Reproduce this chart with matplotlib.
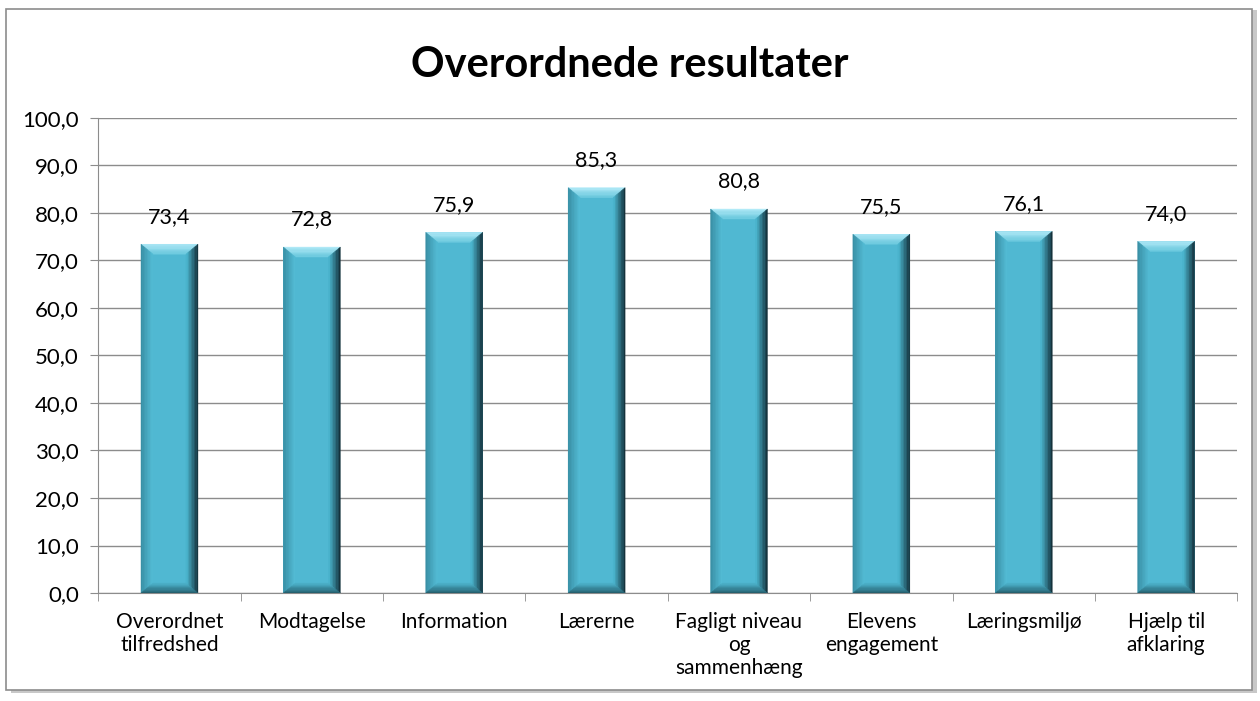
import numpy as np
import matplotlib
matplotlib.use("Agg")
import matplotlib.pyplot as plt
from matplotlib.patches import Rectangle, Polygon
from matplotlib.colors import to_rgb

plt.rcParams['font.family'] = ['Lato', 'DejaVu Sans']

categories = ["Overordnet\ntilfredshed", "Modtagelse", "Information", "Lærerne",
              "Fagligt niveau\nog\nsammenhæng", "Elevens\nengagement",
              "Læringsmiljø", "Hjælp til\nafklaring"]
values = [73.4, 72.8, 75.9, 85.3, 80.8, 75.5, 76.1, 74.0]
yticks = np.arange(0, 101, 10)

fig = plt.figure(figsize=(12.6, 7.01), dpi=100)
fig.patch.set_facecolor('white')

# rammen om diagrammet med skygge
fig.patches.append(Rectangle((0.009, 0.012), 0.989, 0.974, transform=fig.transFigure,
                             facecolor='#c8c8c8', edgecolor='none', zorder=-2))
fig.patches.append(Rectangle((0.005, 0.016), 0.989, 0.971, transform=fig.transFigure,
                             facecolor='white', edgecolor='#8c8c8c', lw=1.2, zorder=-1))

ax = fig.add_axes([0.078, 0.154, 0.904, 0.678])
ax.set_zorder(2)
ax.set_facecolor('none')
x = np.arange(len(values))
width = 0.4

main_col = '#50b8d2'
bars = ax.bar(x, values, width=width, color=main_col, edgecolor='none', zorder=3)


def mix(c1, c2, t):
    a, b = np.array(to_rgb(c1)), np.array(to_rgb(c2))
    return tuple(a + (b - a) * t)


# facetter (bevel) med gradient, fra yderkant mod midten
bx = 0.084
by = 2.1
n = 8
sides = {
    'top': ('#b3ebf8', '#6fcbe0'),
    'right': ('#14323c', '#4ab3cc'),
    'left': ('#3a90a6', '#52bad3'),
    'bottom': ('#25606f', '#4aaec6'),
}
for b in bars:
    x0, y0 = b.get_x(), b.get_y()
    x1, y1 = x0 + b.get_width(), y0 + b.get_height()
    for k in range(n):
        a, c = k / n, (k + 1) / n
        t = k / (n - 1)
        polys = {
            'top': [(x0 + a * bx, y1 - a * by), (x1 - a * bx, y1 - a * by),
                    (x1 - c * bx, y1 - c * by), (x0 + c * bx, y1 - c * by)],
            'right': [(x1 - a * bx, y0 + a * by), (x1 - a * bx, y1 - a * by),
                      (x1 - c * bx, y1 - c * by), (x1 - c * bx, y0 + c * by)],
            'left': [(x0 + a * bx, y0 + a * by), (x0 + a * bx, y1 - a * by),
                     (x0 + c * bx, y1 - c * by), (x0 + c * bx, y0 + c * by)],
            'bottom': [(x0 + a * bx, y0 + a * by), (x1 - a * bx, y0 + a * by),
                       (x1 - c * bx, y0 + c * by), (x0 + c * bx, y0 + c * by)],
        }
        for side, pts in polys.items():
            col = mix(sides[side][0], sides[side][1], t)
            ax.add_patch(Polygon(pts, closed=True, facecolor=col, edgecolor=col,
                                 lw=0.3, zorder=4))
    ax.text(b.get_x() + b.get_width() / 2, y1 + 5.8, f"{b.get_height():.1f}".replace('.', ','),
            ha='center', va='center', fontsize=15.5, color='black', zorder=5)

ax.set_xlim(-0.5, len(values) - 0.5)
ax.set_ylim(0, 100)
ax.set_yticks(yticks)
ax.set_yticklabels([f"{v:.1f}".replace('.', ',') for v in yticks], fontsize=16)
ax.yaxis.grid(True, color='#8c8c8c', lw=1.0, zorder=0)
ax.set_axisbelow(True)

ax.set_xticks(x)
ax.set_xticklabels(categories, fontsize=15, linespacing=1.18, va='top')
ax.tick_params(axis='x', length=0, pad=14)
ax.set_xticks(np.arange(-0.5, len(values)), minor=True)
ax.tick_params(axis='x', which='minor', length=6, color='#8c8c8c')
ax.tick_params(axis='y', length=6, color='#8c8c8c', pad=8)

for s in ['top', 'right']:
    ax.spines[s].set_visible(False)
for s in ['left', 'bottom']:
    ax.spines[s].set_color('#8c8c8c')

fig.text(0.5, 0.907, "Overordnede resultater", ha='center', va='center',
         fontsize=30, fontweight='bold')

fig.savefig('out.png', dpi=100)
